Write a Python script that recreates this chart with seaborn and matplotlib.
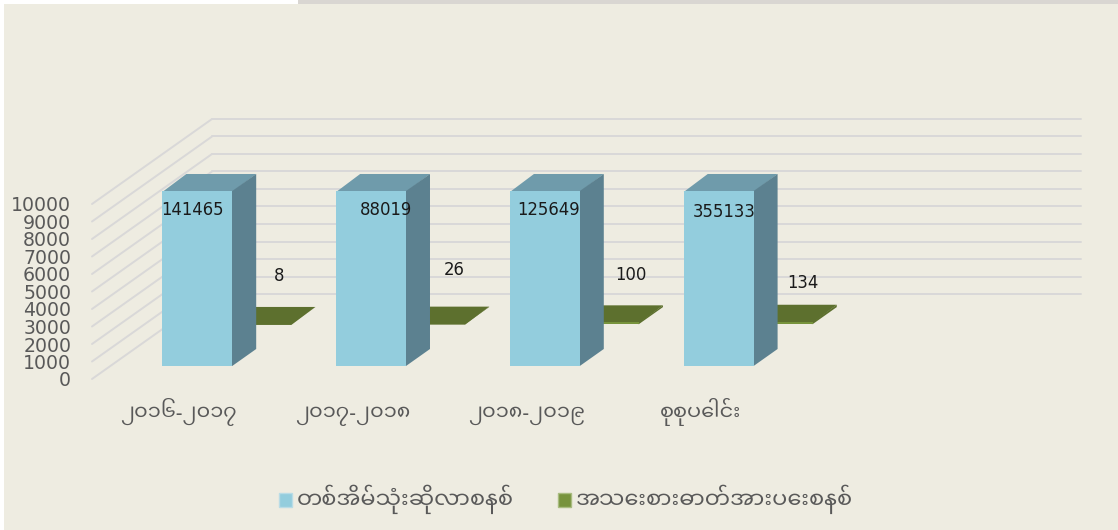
import matplotlib
matplotlib.use("Agg")
import matplotlib.pyplot as plt
from matplotlib.patches import Polygon, Rectangle
from matplotlib.transforms import Affine2D
import pandas as pd
import seaborn as sns

categories = ["၂၀၁၆-၂၀၁၇", "၂၀၁၇-၂၀၁၈", "၂၀၁၈-၂၀၁၉", "စုစုပေါင်း"]
series_names = ["တစ်အိမ်သုံးဆိုလာစနစ်", "အသေးစားဓာတ်အားပေးစနစ်"]
home_solar = [141465, 88019, 125649, 355133]
small_power = [8, 26, 100, 134]
y_ticks = [0, 1000, 2000, 3000, 4000, 5000, 6000, 7000, 8000, 9000, 10000]

BG = "#EEECE1"
GRID = "#D9D8D8"
TXT = "#595959"
W, H = 1118, 530

sns.set_theme(style="white")
plt.rcParams["font.family"] = ["Noto Sans Myanmar UI", "Noto Sans Myanmar", "DejaVu Sans"]

fig = plt.figure(figsize=(W / 100, H / 100), dpi=100, facecolor=BG)
# front plane of the 3-D box: x 92..961 px, value 0 at y=379, 10000 at y=204
ax = fig.add_axes([92 / W, 1 - 379 / H, 869 / W, 175 / H])
ax.patch.set_alpha(0)

df = pd.DataFrame({
    "cat": categories * 2,
    "series": [series_names[0]] * 4 + [series_names[1]] * 4,
    "value": home_solar + small_power,
})
sns.barplot(data=df, x="cat", y="value", hue="series", dodge=False, width=0.402,
            palette=["#93CDDD", "#77933C"], saturation=1, legend=False, ax=ax, zorder=3)
ax.set_xlim(-0.5, 4.5)
ax.set_ylim(0, 10000)
ax.set_yticks(y_ticks)
ax.set_xlabel("")
ax.set_ylabel("")
for s in ax.spines.values():
    s.set_visible(False)
ax.tick_params(axis="y", length=0, pad=15, labelsize=13.6, labelcolor=TXT)
ax.tick_params(axis="x", length=0, pad=29.5, labelsize=15, labelcolor=TXT)
for lab in ax.get_yticklabels():
    lab.set_fontfamily("DejaVu Sans")
for lab in ax.get_xticklabels():
    lab.set_verticalalignment("baseline")

# depth of the box in pixels
DX, DY = 120, 85


def shift(frac):
    return Affine2D().translate(DX * frac, DY * frac)


# gridlines: along the side floor/wall and on the back wall
for t in y_ticks:
    ax.plot([0, 1], [t, t], transform=ax.get_yaxis_transform() + shift(1),
            color=GRID, lw=1.4, clip_on=False, zorder=1)
    x0, y0 = ax.transData.transform((-0.5, t))
    ax.plot([x0, x0 + DX], [y0, y0 + DY], transform=None,
            color=GRID, lw=1.4, clip_on=False, zorder=1)

# 3-D faces, built from the bars seaborn drew
n = len(categories)
depth = [(0.153, 0.2), (0.646, 0.2)]
face = [("#6F9BAB", "#5C8190"), ("#5D702E", "#5D702E")]
bars = list(ax.patches)[:2 * n]
for i, p in enumerate(bars):
    k = i // n
    start, d = depth[k]
    top_v = min(p.get_height(), 10000)
    p.set_height(top_v)
    to_px = ax.transData + shift(start)
    p.set_transform(to_px)
    p.set_clip_on(False)
    z = 3 if k == 0 else 2.5
    p.set_zorder(z)
    p.set_edgecolor("none")
    x = p.get_x()
    (xl, yb), (xr, yt) = to_px.transform([(x, 0), (x + p.get_width(), top_v)])
    ox, oy = DX * d, DY * d
    # faces sit just under the front and overlap it by a pixel, so no seam shows
    ax.add_patch(Polygon([(xl, yt - 1), (xr, yt - 1), (xr + ox, yt + oy), (xl + ox, yt + oy)],
                         transform=None, fc=face[k][0], ec="none",
                         clip_on=False, zorder=z - 0.1))
    ax.add_patch(Polygon([(xr - 1, yb), (xr, yb), (xr + ox, yb + oy), (xr + ox, yt + oy), (xr, yt), (xr - 1, yt)],
                         transform=None, fc=face[k][1], ec="none",
                         clip_on=False, zorder=z - 0.05))

# data labels (pixel nudges from each bar's top-front centre)
label_offsets = [(-5, -19), (15, -19), (4, -19), (6, -21),
                 (23, 48), (24, 54), (27, 47), (25, 39)]
values = home_solar + small_power
for i, v in enumerate(values):
    px = i % n
    ox, oy = label_offsets[i]
    start = depth[i // n][0]
    ax.annotate(str(v), xy=(px, min(v, 10000)), xycoords="data",
                xytext=((ox + DX * start) * 0.72, (oy + DY * start) * 0.72),
                textcoords="offset points", ha="center", va="center",
                fontsize=11.9, color="#1A1A1A", family="DejaVu Sans",
                annotation_clip=False, zorder=6)

# legend
handles = [Rectangle((0, 0), 1, 1, fc="#93CDDD", ec="#B9DCE6"),
           Rectangle((0, 0), 1, 1, fc="#77933C", ec="#A9BC80")]
fig.legend(handles, series_names, loc="center", bbox_to_anchor=(566 / W, 1 - 499 / H),
           ncol=2, frameon=False, fontsize=16.2, labelcolor=TXT, handlelength=0.58,
           handleheight=0.58, handletextpad=0.2, columnspacing=1.96)

# page edges visible in the screenshot
fig.add_artist(Rectangle((0, 0), 4 / W, 1, transform=fig.transFigure, fc="white", ec="none"))
fig.add_artist(Rectangle((0, 1 - 4 / H), 298 / W, 4 / H, transform=fig.transFigure, fc="white", ec="none"))
fig.add_artist(Rectangle((298 / W, 1 - 4 / H), 820 / W, 4 / H, transform=fig.transFigure, fc="#D9D6D2", ec="none"))

fig.savefig("out.png", dpi=100, facecolor=BG)
